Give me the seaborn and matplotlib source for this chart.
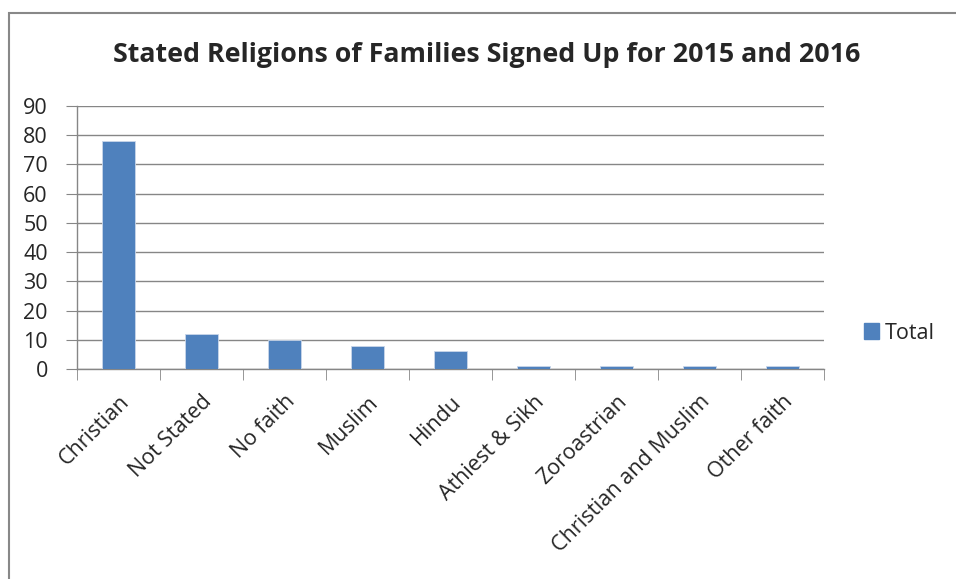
import pandas as pd
import matplotlib.pyplot as plt
import seaborn as sns
from matplotlib.patches import Rectangle

religioes = ['Christian', 'Not Stated', 'No faith', 'Muslim', 'Hindu',
             'Athiest & Sikh', 'Zoroastrian', 'Christian and Muslim', 'Other faith']
total = [78, 12, 10, 8, 6, 1, 1, 1, 1]

df = pd.DataFrame({'Religion': religioes, 'Total': total})

sns.set_style('white')
plt.rcParams['font.family'] = ['Open Sans', 'DejaVu Sans']

fig = plt.figure(figsize=(9.56, 5.79), dpi=100)
ax = fig.add_axes([77 / 956, 1 - 369 / 579, (824 - 77) / 956, (369 - 106) / 579])

cor = '#4F81BD'
sns.barplot(data=df, x='Religion', y='Total', color=cor, width=0.4,
            saturation=1, ax=ax, edgecolor='#C9D6EA', linewidth=0.6, zorder=3)

# moldura do gráfico (só esquerda e topo aparecem no recorte)
fig.patches.append(Rectangle((9 / 956, -0.5), 1.2, 1 - 13 / 579 + 0.5,
                             transform=fig.transFigure, fill=False,
                             edgecolor='#888888', linewidth=1.5))

ax.set_ylim(0, 90)
ax.set_xlim(-0.5, len(religioes) - 0.5)
ax.set_yticks(range(0, 91, 10))
ax.yaxis.grid(True, color='#868686', linewidth=1, zorder=0)
ax.set_axisbelow(True)
for s in ['top', 'right']:
    ax.spines[s].set_visible(False)
for s in ['left', 'bottom']:
    ax.spines[s].set_color('#868686')
    ax.spines[s].set_linewidth(1)

ax.set_xticks([i - 0.5 for i in range(len(religioes) + 1)], minor=True)
ax.tick_params(axis='x', which='minor', length=8, color='#868686', direction='out', bottom=True)
ax.tick_params(axis='x', which='major', length=0, pad=16)
ax.tick_params(axis='y', length=8, color='#868686', direction='out', left=True,
               labelsize=15.5, pad=13)
ax.set_xticks(range(len(religioes)))
ax.set_xticklabels(religioes, rotation=45, ha='right', rotation_mode='anchor', fontsize=15.5)
ax.set_xlabel('')
ax.set_ylabel('')

fig.text(487 / 956, 1 - 55 / 579, 'Stated Religions of Families Signed Up for 2015 and 2016',
         ha='center', va='center', fontsize=19.3, fontweight='bold')

handle = Rectangle((0, 0), 1, 1, color=cor)
fig.legend([handle], ['Total'], loc='center left', bbox_to_anchor=(860 / 956, 1 - 333 / 579),
           frameon=False, fontsize=15.5, handlelength=0.7, handleheight=0.7, handletextpad=0.25,
           borderaxespad=0, borderpad=0.2)

plt.savefig('out.png', dpi=100)
plt.close()
